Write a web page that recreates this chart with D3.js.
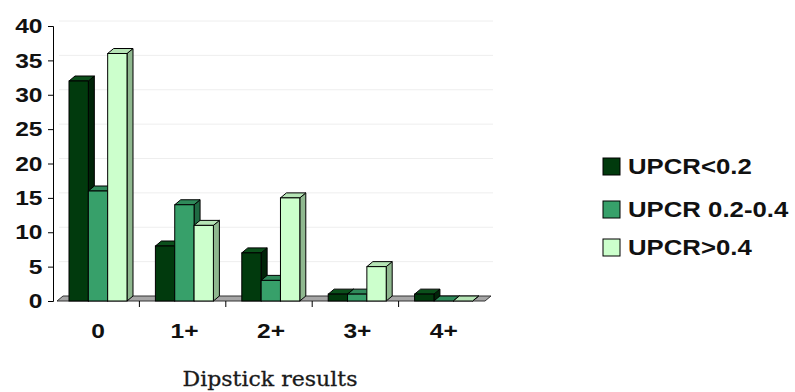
<!DOCTYPE html>
<html>
<head>
<meta charset="utf-8">
<script src="https://cdn.jsdelivr.net/npm/d3@7"></script>
<style>
  body { margin: 0; background: #fff; }
  svg { display: block; }
</style>
</head>
<body>
<svg id="chart" width="795" height="392"></svg>
<script>
// data
const categories = ["0", "1+", "2+", "3+", "4+"];
const seriesNames = ["UPCR<0.2", "UPCR 0.2-0.4", "UPCR>0.4"];
const lowValues = [32, 8, 7, 1, 1];
const midValues = [16, 14, 3, 1, 0];
const highValues = [36, 11, 15, 5, 0];
const yTicks = [0, 5, 10, 15, 20, 25, 30, 35, 40];

const colors = {
    front: ["#013a0d", "#37a06a", "#ccffcc"],
    side: ["#002408", "#1f6a43", "#8fb88f"],
    top: ["#0b4f1b", "#2f8a5a", "#b5e4b5"]
};

const svg = d3.select("#chart");
const depth = {x: 6, y: -5};
const stretch = 1.17; // the picture's lettering is a bit wide

const x0 = d3.scaleBand().domain(categories).range([53, 485]);
const x1 = d3.scaleBand().domain(d3.range(3)).range([16, 74]);
const y = d3.scaleLinear().domain([0, 40]).range([301, 26]);

const series = [lowValues, midValues, highValues];

// back wall gridlines
svg.append("g")
    .selectAll("line")
    .data(yTicks.filter(d => d > 0))
    .join("line")
    .attr("x1", 53 + depth.x)
    .attr("x2", 493)
    .attr("y1", d => y(d) + depth.y)
    .attr("y2", d => y(d) + depth.y)
    .attr("stroke", "#eeeeee")
    .attr("stroke-width", 1);

// floor
const fx0 = x0.range()[0] + 4, fx1 = x0.range()[1];
svg.append("path")
    .attr("d", `M${fx0},${y(0)} L${fx1},${y(0)} L${fx1 + depth.x},${y(0) + depth.y} L${fx0 + depth.x},${y(0) + depth.y} Z`)
    .attr("fill", "#a6a6a6")
    .attr("stroke", "#333")
    .attr("stroke-width", 1);

// bars with fake 3d faces
const bars = [];
categories.forEach((c, ci) => {
    series.forEach((vals, si) => {
        bars.push({cat: c, s: si, v: vals[ci]});
    });
});

const barG = svg.append("g");
bars.forEach(d => {
    const xl = x0(d.cat) + x1(d.s);
    const w = x1.bandwidth();
    const yt = y(d.v);
    const yb = y(0);
    const g = barG.append("g");
    // side
    g.append("path")
        .attr("d", `M${xl + w},${yb} L${xl + w + depth.x},${yb + depth.y} L${xl + w + depth.x},${yt + depth.y} L${xl + w},${yt} Z`)
        .attr("fill", colors.side[d.s])
        .attr("stroke", "#000")
        .attr("stroke-width", 1);
    // top
    g.append("path")
        .attr("d", `M${xl},${yt} L${xl + depth.x},${yt + depth.y} L${xl + w + depth.x},${yt + depth.y} L${xl + w},${yt} Z`)
        .attr("fill", colors.top[d.s])
        .attr("stroke", "#000")
        .attr("stroke-width", 1);
    // front
    g.append("rect")
        .attr("x", xl)
        .attr("y", yt)
        .attr("width", w)
        .attr("height", yb - yt)
        .attr("fill", colors.front[d.s])
        .attr("stroke", "#000")
        .attr("stroke-width", 1);
});

// y axis
const yAxis = svg.append("g")
    .attr("transform", "translate(53,0)")
    .call(d3.axisLeft(y).tickValues(yTicks).tickSize(5).tickPadding(4));
yAxis.select(".domain").attr("stroke", "#000");
yAxis.selectAll("text")
    .attr("font-family", "Liberation Sans, Arial, sans-serif")
    .attr("font-weight", "bold")
    .attr("font-size", "21px")
    .attr("fill", "#111")
    .attr("transform", `scale(${stretch},1)`);

// x axis ticks at category borders
const xAxis = svg.append("g");
xAxis.selectAll("line")
    .data(categories.slice(1))
    .join("line")
    .attr("x1", d => x0(d))
    .attr("x2", d => x0(d))
    .attr("y1", y(0))
    .attr("y2", y(0) + 6)
    .attr("stroke", "#000");
xAxis.selectAll("text")
    .data(categories)
    .join("text")
    .attr("transform", d => `translate(${x0(d) + x0.bandwidth() / 2 + 2},338) scale(${stretch},1)`)
    .attr("text-anchor", "middle")
    .attr("font-family", "Liberation Sans, Arial, sans-serif")
    .attr("font-weight", "bold")
    .attr("font-size", "21px")
    .attr("fill", "#111")
    .text(d => d);

svg.append("text")
    .attr("x", 270)
    .attr("y", 386)
    .attr("text-anchor", "middle")
    .attr("font-family", "DejaVu Serif, Liberation Serif, serif")
    .attr("font-size", "21px")
    .attr("fill", "#1a1a1a")
    .attr("stroke", "#1a1a1a")
    .attr("stroke-width", 0.3)
    .attr("textLength", 175)
    .attr("lengthAdjust", "spacingAndGlyphs")
    .text("Dipstick results");

// legend
const legend = svg.append("g").attr("transform", "translate(603,0)");
const legendY = [166, 209, 247];
seriesNames.forEach((name, i) => {
    legend.append("rect")
        .attr("x", 0)
        .attr("y", legendY[i] - 8)
        .attr("width", 17)
        .attr("height", 17)
        .attr("fill", colors.front[i])
        .attr("stroke", "#000");
    legend.append("text")
        .attr("transform", `translate(25,${legendY[i] + 8}) scale(1.12,1)`)
        .attr("font-family", "Liberation Sans, Arial, sans-serif")
        .attr("font-weight", "bold")
        .attr("font-size", "23px")
        .attr("fill", "#111")
        .text(name);
});
</script>
</body>
</html>
